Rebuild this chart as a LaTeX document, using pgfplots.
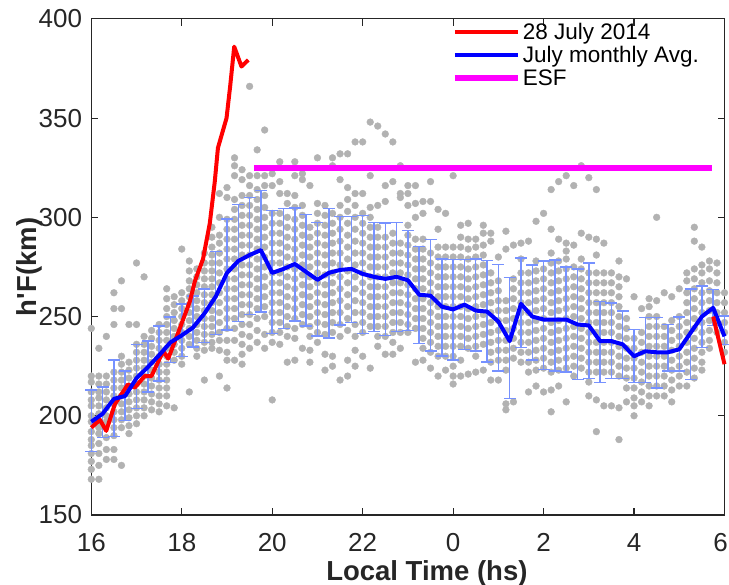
\documentclass[border=0pt]{standalone}
\usepackage{pgfplots}
\pgfplotsset{compat=1.18}
\usepackage{pgfplotstable}
\usepackage{fontspec}
\setmainfont{Liberation Sans}
\newfontfamily\rawsans{Liberation Sans}
\definecolor{dotgray}{RGB}{178,178,178}
\definecolor{ebblue}{RGB}{118,145,255}
\definecolor{axgray}{RGB}{38,38,38}
\definecolor{pRed}{RGB}{255,0,0}
\definecolor{pBlue}{RGB}{0,0,255}
\definecolor{pMag}{RGB}{255,0,255}

% gray scatter: t and up to 20 values per 10-min column
\pgfplotstableread{
t v1 v2 v3 v4 v5 v6 v7 v8 v9 v10 v11 v12 v13 v14 v15 v16 v17 v18 v19 v20
16.000 244 220 217 212 208 205 200 197 192 188 185 181 177 173 168 nan nan nan nan nan
16.167 234 220 216 212 209 205 201 197 194 191 186 181 175 168 nan nan nan nan nan nan
16.333 240 220 216 212 208 204 200 197 189 183 178 nan nan nan nan nan nan nan nan nan
16.500 262 254 246 222 218 214 210 206 202 198 194 190 183 178 nan nan nan nan nan nan
16.667 268 254 230 226 222 218 214 210 206 202 198 194 175 nan nan nan nan nan nan nan
16.833 246 227 223 219 215 211 207 203 199 195 191 nan nan nan nan nan nan nan nan nan
17.000 277 246 236 232 228 224 220 216 212 208 204 200 196 nan nan nan nan nan nan nan
17.167 270 240 236 232 228 224 220 216 212 208 204 200 nan nan nan nan nan nan nan nan
17.333 243 239 235 231 227 223 219 215 211 207 203 nan nan nan nan nan nan nan nan nan
17.500 246 242 238 234 230 226 222 218 214 210 206 202 nan nan nan nan nan nan nan nan
17.667 264 259 254 250 246 242 238 234 230 226 222 218 214 210 205 nan nan nan nan nan
17.833 260 256 252 248 244 240 236 232 228 204 nan nan nan nan nan nan nan nan nan nan
18.000 284 262 258 254 250 246 242 238 234 230 226 nan nan nan nan nan nan nan nan nan
18.167 278 273 268 264 260 256 252 248 244 240 236 212 nan nan nan nan nan nan nan nan
18.333 274 270 266 262 258 254 250 246 242 238 234 230 nan nan nan nan nan nan nan nan
18.500 282 277 273 269 265 261 257 253 249 245 241 237 233 218 nan nan nan nan nan nan
18.667 295 290 285 281 277 273 269 265 261 257 253 249 245 241 237 234 nan nan nan nan
18.833 312 300 291 287 282 277 272 267 262 257 252 247 242 238 233 220 nan nan nan nan
19.000 315 310 299 294 289 284 279 274 269 264 259 254 249 244 238 232 228 214 nan nan
19.167 330 326 321 309 304 299 294 289 284 279 274 269 264 259 254 249 244 238 228 nan
19.333 324 319 311 306 301 296 291 286 281 276 271 266 261 256 251 246 241 236 231 226
19.500 366 321 316 311 306 301 296 291 286 281 276 271 266 261 256 251 246 240 234 nan
19.667 334 321 314 309 304 299 294 289 284 279 274 269 264 259 254 249 243 237 nan nan
19.833 344 321 316 311 305 300 295 290 285 280 275 270 265 260 255 250 241 234 nan nan
20.000 322 316 302 297 292 287 282 277 272 267 262 257 252 247 242 237 208 nan nan nan
20.167 328 318 312 302 297 292 287 282 277 272 267 262 257 252 247 242 236 nan nan nan
20.333 312 307 300 295 290 285 280 275 270 265 260 255 250 245 240 227 nan nan nan nan
20.500 328 321 311 305 299 294 289 284 279 274 269 264 259 254 249 244 239 228 nan nan
20.667 322 319 306 301 296 291 286 281 276 271 266 261 256 251 246 234 nan nan nan nan
20.833 316 295 290 285 280 275 270 265 260 255 250 245 240 233 227 nan nan nan nan nan
21.000 330 307 302 297 292 287 282 277 272 267 262 257 252 247 242 237 nan nan nan nan
21.167 306 301 296 291 286 281 276 271 266 261 256 251 246 241 231 223 nan nan nan nan
21.333 330 326 302 297 292 287 282 277 272 267 262 257 252 247 242 230 225 nan nan nan
21.500 332 319 306 300 294 288 282 276 270 264 258 252 246 240 218 nan nan nan nan nan
21.667 332 315 309 303 297 291 285 279 273 267 261 255 249 243 228 220 nan nan nan nan
21.833 338 312 306 300 294 288 282 276 270 264 258 252 246 240 233 225 nan nan nan nan
22.000 338 312 302 297 292 287 282 277 272 267 262 257 252 247 242 230 nan nan nan nan
22.167 348 321 305 300 295 290 285 280 275 270 265 260 255 250 245 224 nan nan nan nan
22.333 346 306 295 290 285 280 275 270 265 260 255 250 245 240 235 nan nan nan nan nan
22.500 342 316 308 290 285 280 275 270 265 260 255 250 245 240 231 nan nan nan nan nan
22.667 338 318 292 287 282 277 272 267 262 257 252 247 242 237 231 nan nan nan nan nan
22.833 326 312 310 287 282 277 272 267 262 257 252 247 242 234 nan nan nan nan nan nan
23.000 316 312 306 296 291 286 281 276 271 266 261 256 251 246 242 nan nan nan nan nan
23.167 316 307 300 289 284 279 274 269 264 259 254 249 244 227 nan nan nan nan nan nan
23.333 308 302 289 284 279 274 269 264 259 254 249 244 239 234 228 nan nan nan nan nan
23.500 318 308 282 277 272 267 262 257 252 247 242 237 232 224 nan nan nan nan nan nan
23.667 304 294 285 280 275 270 265 260 255 250 245 240 235 230 220 nan nan nan nan nan
23.833 302 285 280 275 270 265 260 255 250 245 240 235 230 223 nan nan nan nan nan nan
24.000 321 285 280 275 270 265 260 255 250 245 240 235 230 225 220 216 nan nan nan nan
24.167 296 290 285 280 275 270 265 260 255 250 245 240 235 228 220 nan nan nan nan nan
24.333 297 289 284 279 274 269 264 259 254 249 244 239 234 221 nan nan nan nan nan nan
24.500 289 285 280 275 270 265 260 255 250 245 240 235 230 222 nan nan nan nan nan nan
24.667 296 292 286 281 276 271 266 261 256 251 246 241 236 223 nan nan nan nan nan nan
24.833 292 288 272 267 262 257 252 247 242 237 232 227 218 nan nan nan nan nan nan nan
25.000 280 268 263 258 253 248 243 238 233 228 218 nan nan nan nan nan nan nan nan nan
25.167 293 284 258 253 248 243 238 233 228 223 206 203 nan nan nan nan nan nan nan nan
25.333 286 269 264 259 254 249 244 239 234 229 207 nan nan nan nan nan nan nan nan nan
25.500 287 279 272 267 262 257 252 247 242 237 232 227 nan nan nan nan nan nan nan nan
25.667 288 272 267 262 257 252 247 242 237 232 227 222 212 nan nan nan nan nan nan nan
25.833 298 278 273 268 263 258 253 248 243 238 233 228 223 215 nan nan nan nan nan nan
26.000 302 274 269 264 259 254 249 244 239 234 229 224 212 nan nan nan nan nan nan nan
26.167 314 294 282 277 272 267 262 257 252 247 242 237 232 227 222 213 202 nan nan nan
26.333 318 289 278 273 268 263 258 253 248 243 238 233 228 223 215 nan nan nan nan nan
26.500 321 287 283 279 274 269 264 259 254 249 244 239 234 229 224 207 nan nan nan nan
26.667 316 286 275 270 265 260 255 250 245 240 235 230 225 220 nan nan nan nan nan nan
26.833 326 292 279 274 269 264 259 254 249 244 239 234 229 224 nan nan nan nan nan nan
27.000 320 290 272 267 262 257 252 247 242 237 232 227 222 217 210 nan nan nan nan nan
27.167 314 289 281 272 267 262 257 252 247 242 237 232 227 222 208 192 nan nan nan nan
27.333 287 272 267 262 257 252 247 242 237 232 227 222 205 nan nan nan nan nan nan nan
27.500 272 267 262 257 252 247 242 237 232 227 222 205 nan nan nan nan nan nan nan nan
27.667 278 270 265 260 255 250 245 240 235 230 225 220 204 188 nan nan nan nan nan nan
27.833 269 249 244 239 234 229 224 219 214 207 nan nan nan nan nan nan nan nan nan nan
28.000 260 239 234 229 224 219 214 209 205 200 nan nan nan nan nan nan nan nan nan nan
28.167 254 242 237 232 227 222 217 212 207 nan nan nan nan nan nan nan nan nan nan nan
28.333 259 255 250 245 240 235 230 225 220 215 210 205 nan nan nan nan nan nan nan nan
28.500 300 258 250 245 240 235 230 225 220 215 210 nan nan nan nan nan nan nan nan nan
28.667 262 245 240 235 230 225 220 215 210 nan nan nan nan nan nan nan nan nan nan nan
28.833 260 248 243 238 233 228 223 218 213 207 nan nan nan nan nan nan nan nan nan nan
29.000 264 250 245 240 235 230 225 220 215 nan nan nan nan nan nan nan nan nan nan nan
29.167 272 268 262 257 252 247 242 237 232 227 222 215 nan nan nan nan nan nan nan nan
29.333 295 288 274 269 264 259 254 249 244 239 234 229 224 219 nan nan nan nan nan nan
29.500 285 276 272 267 262 257 252 247 242 237 232 227 223 nan nan nan nan nan nan nan
29.667 278 274 268 263 258 253 248 243 238 234 nan nan nan nan nan nan nan nan nan nan
29.833 277 272 267 262 257 252 247 242 nan nan nan nan nan nan nan nan nan nan nan nan
30.000 262 257 252 247 242 237 232 nan nan nan nan nan nan nan nan nan nan nan nan nan
}\dots

% monthly mean with upper and lower bar ends
\pgfplotstableread{
t m top bot
16.00 197 213 182
16.25 201 214.5 189
16.50 208.5 228 189.5
16.75 210 222.5 197.7
17.00 219 236 203.6
17.25 224.5 237.6 212
17.50 230.5 245.2 217.5
17.75 237 249.7 226.8
18.00 240.5 256.4 229.8
18.25 244.5 260.3 234.6
18.50 251.5 264 236.8
18.75 260 282.7 241
19.00 272 299.2 243.2
19.25 278 306.4 247.4
19.50 281 310 251
19.75 283.5 313.6 252.2
20.00 272 303.5 241.4
20.25 274 304.4 243.9
20.50 276.5 304.7 247.7
20.75 272.5 301.4 245.2
21.00 268.5 297.5 240.1
21.25 272 304.4 239.3
21.50 273.5 300.5 245.7
21.75 274 300.5 246.9
22.00 271.5 300.9 241.5
22.25 270 297.5 242.4
22.50 269 297.2 240.5
22.75 270 297.5 242.4
23.00 268.3 293.3 243
23.25 261 285.4 236.5
23.50 260.5 288.8 232.6
23.75 255 279 230.1
24.00 253.6 278.7 228.1
24.25 256 278.7 233.5
24.50 253 279 232.6
24.75 252.5 278.2 227.1
25.00 247.5 276.2 222.6
25.25 237.6 269.8 208.8
25.50 256.4 279.6 234.3
25.75 250 275.9 228.1
26.00 248.5 277.9 223.4
26.25 248.5 278.4 222.6
26.50 248.5 274.9 222
26.75 246 274 218.4
27.00 245.5 277.1 218.7
27.25 237.6 257.7 216.7
27.50 237.6 256.9 218.7
27.75 236 252.7 218.7
28.00 230 243.5 216.7
28.25 232.5 249.4 216.7
28.50 232 249.4 214.1
28.75 232 246 222.6
29.00 233.5 249.9 222.6
29.25 241.8 264 218.4
29.50 250 265.3 234.3
29.75 254.4 263.6 245.5
30.00 240 250.2 236
}\avg

\pgfplotstableread{
t v
16.00 194
16.19 198
16.33 192.4
16.52 205.8
16.81 215.8
16.96 214.2
17.18 220
17.33 220
17.59 232.6
17.70 228.8
17.92 241.8
18.18 257.7
18.29 267.8
18.47 279
18.62 297
18.73 318
18.80 335
18.99 350
19.07 366
19.16 386
19.32 376
19.47 379.3
}\redday

\begin{document}
\begin{tikzpicture}
\path[use as bounding box] (0,0) rectangle (729pt,585pt);
\begin{axis}[
  at={(91.3pt,70pt)}, anchor=south west,
  scale only axis, width=633.2pt, height=496.1pt,
  xmin=16, xmax=30, ymin=150, ymax=400,
  clip=false, clip marker paths=true,
  xtick={16,18,20,22,24,26,28,30},
  xticklabels={16,18,20,22,0,2,4,{\makebox[0pt]{\hspace{-8pt}6}}},
  ytick={150,200,250,300,350,400},
  yticklabels={150,200,250,300,350,400},
  tick align=inside,
  major tick length=7pt,
  axis line style={axgray, line width=1.2pt},
  every tick/.style={axgray, line width=1.2pt},
  ticklabel style={font=\fontsize{26}{31}\selectfont, text=axgray, inner sep=0pt},
  xticklabel style={yshift=-18pt},
  yticklabel style={xshift=-9pt},
  xlabel={\textbf{Local Time (hs)}},
  ylabel={{\rawsans\bfseries h'F(km)}},
  label style={font=\fontsize{27.5}{33}\selectfont, text=axgray},
  xlabel style={at={(axis description cs:0.53,-0.117)}, anchor=center},
  ylabel style={at={(axis description cs:-0.097,0.5)}, anchor=center},
  legend style={at={(0.566,1.0)}, anchor=north west, draw=none, fill=none,
    font=\fontsize{22.5}{27}\selectfont, inner sep=2pt, row sep=1.5pt,
    nodes={inner sep=2pt}},
  legend cell align=left,
  legend image code/.code={\draw[#1] (0pt,0pt) -- (63pt,0pt);},
]
\pgfplotsinvokeforeach{1,...,20}{
  \addplot[only marks, mark=*, mark size=3.4pt, color=dotgray, forget plot]
    table[x=t, y=v#1] {\dots};
}
\addplot[draw=none, mark=none, forget plot,
  error bars/.cd, y dir=both, y explicit,
  error bar style={draw=ebblue, line width=1.5pt},
  error mark=-,
  error mark options={rotate=90, draw=ebblue, line width=1.5pt, mark size=6pt}]
  table[x=t, y=m, y error plus expr=\thisrow{top}-\thisrow{m},
        y error minus expr=\thisrow{m}-\thisrow{bot}] {\avg};
\addplot[color=pRed, line width=4pt, line join=round] table[x=t, y=v] {\redday};
\addlegendentry{28 July 2014}
\addplot[color=pBlue, line width=4pt, line join=round] table[x=t, y=m] {\avg};
\addlegendentry{July monthly Avg.}
\addplot[color=pMag, line width=6pt] coordinates {(19.6,325) (29.72,325)};
\addlegendentry{ESF}
\addplot[color=pRed, line width=4pt, forget plot] coordinates {(29.75,250) (30,226)};
\end{axis}
\end{tikzpicture}
\end{document}
